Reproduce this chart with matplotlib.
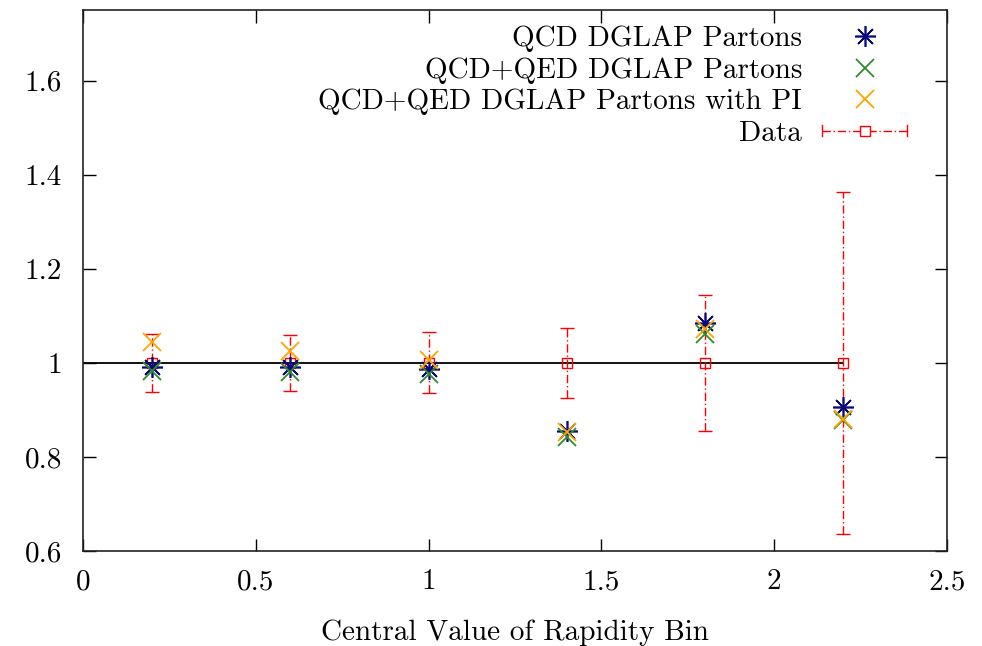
import matplotlib
matplotlib.use("Agg")
import matplotlib.pyplot as plt
from matplotlib.lines import Line2D
from matplotlib.legend_handler import HandlerBase

plt.rcParams['font.family'] = ['cmr10', 'DejaVu Serif']
plt.rcParams['axes.formatter.use_mathtext'] = True
plt.rcParams['mathtext.fontset'] = 'cm'

# ---- data ----
rapidity = [0.2, 0.6, 1.0, 1.4, 1.8, 2.2]
qcd = [0.991, 0.991, 0.987, 0.856, 1.084, 0.906]
qcd_qed = [0.983, 0.980, 0.977, 0.843, 1.062, 0.878]
qcd_qed_pi = [1.044, 1.026, 1.005, 0.854, 1.072, 0.881]
data_val = [1.0, 1.0, 1.0, 1.0, 1.0, 1.0]
data_err = [0.062, 0.060, 0.065, 0.075, 0.145, 0.363]
ref_line_x = [0.0, 2.2]
ref_line_y = [1.0, 1.0]

labels = ["QCD DGLAP Partons", "QCD+QED DGLAP Partons",
          "QCD+QED DGLAP Partons with PI", "Data"]
xticks = [0, 0.5, 1, 1.5, 2, 2.5]
yticks = [0.6, 0.8, 1.0, 1.2, 1.4, 1.6]
ytick_labels = ["0.6", "0.8", "1", "1.2", "1.4", "1.6"]
xtick_labels = ["0", "0.5", "1", "1.5", "2", "2.5"]

blue = "#0a0a80"
green = "#2e8b2e"
orange = "#ffa500"
red = "#ff0000"

fig = plt.figure(figsize=(9.82, 6.46), dpi=100)
ax = fig.add_axes([83/982, 1-551/646, 864/982, 541/646])

ax.plot(ref_line_x, ref_line_y, color="black", lw=1.3, zorder=1)

eb = ax.errorbar(rapidity, data_val, yerr=data_err, fmt='s', mfc='none', mec=red,
                 ms=7, mew=1.0, ecolor=red, elinewidth=1.0, capsize=5, capthick=1.0,
                 zorder=3)
for bl in eb[2]:
    bl.set_linestyle((0, (6, 2, 1, 2)))

ast = (8, 2, 0)
h1, = ax.plot(rapidity, qcd, ls='none', marker=ast, ms=15, mew=1.2, color=blue, zorder=4)
h2, = ax.plot(rapidity, qcd_qed, ls='none', marker='x', ms=13, mew=1.3, color=green, zorder=4)
h3, = ax.plot(rapidity, qcd_qed_pi, ls='none', marker='x', ms=13, mew=1.3, color=orange, zorder=5)

ax.set_xlim(0, 2.5)
ax.set_ylim(0.6, 1.75)
ax.set_xticks(xticks)
ax.set_xticklabels(xtick_labels)
ax.set_yticks(yticks)
ax.set_yticklabels(ytick_labels)
ax.tick_params(direction='in', length=9, width=1.0, top=True, right=True,
               labelsize=21, colors='black')
ax.tick_params(axis='x', pad=13)
ax.tick_params(axis='y', pad=15)
for s in ax.spines.values():
    s.set_linewidth(1.2)
    s.set_color("#222222")

ax.set_xlabel("Central Value of Rapidity Bin", fontsize=21, labelpad=17)


class DataHandler(HandlerBase):
    def create_artists(self, legend, orig_handle, xdescent, ydescent, width,
                       height, fontsize, trans):
        x0 = -xdescent
        x1 = -xdescent + width
        y = (height - ydescent) / 2.0
        c = 0.2 * fontsize
        line = Line2D([x0, x1], [y, y], color=red, lw=1.0,
                      linestyle=(0, (6, 2, 1, 2)), transform=trans)
        cap1 = Line2D([x0, x0], [y - c, y + c], color=red, lw=1.0, transform=trans)
        cap2 = Line2D([x1, x1], [y - c, y + c], color=red, lw=1.0, transform=trans)
        sq = Line2D([(x0 + x1) / 2], [y], ls='none', marker='s', ms=7, mfc='white',
                    mec=red, mew=1.0, transform=trans)
        return [line, cap1, cap2, sq]


data_handle = Line2D([], [], color=red)
leg = ax.legend([h1, h2, h3, data_handle], labels, loc='upper right',
                bbox_to_anchor=((907 - 83) / 864, (551 - 26) / 541),
                frameon=False, markerfirst=False, fontsize=21,
                handlelength=2.9, handletextpad=0.7, labelspacing=0.17,
                borderpad=0, borderaxespad=0,
                handler_map={data_handle: DataHandler()})

fig.savefig("out.png", dpi=100)
